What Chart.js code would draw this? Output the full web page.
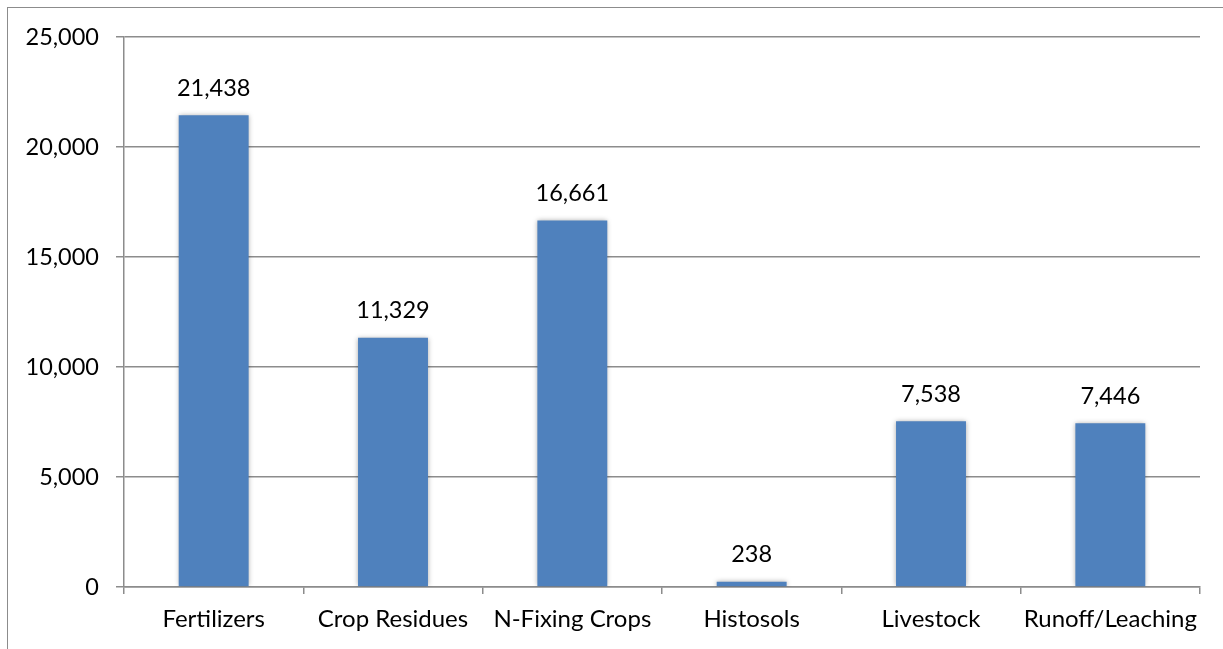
<!DOCTYPE html>
<html>
<head>
<meta charset="utf-8">
<script src="https://cdn.jsdelivr.net/npm/chart.js@4/dist/chart.umd.min.js"></script>
<style>
  html, body { margin: 0; padding: 0; background: #fff; }
  #wrap { position: relative; width: 1223px; height: 649px; }
  #frame { position: absolute; left: 7px; top: 7px; right: 0; bottom: 0;
           border-left: 1px solid #8c8c8c; border-top: 1px solid #8c8c8c; pointer-events: none; }
  canvas { position: absolute; left: 0; top: 0; }
</style>
</head>
<body>
<div id="wrap">
  <canvas id="chart" width="1223" height="649"></canvas>
  <div id="frame"></div>
</div>
<script>
// === Daten ===
const categories = ['Fertilizers', 'Crop Residues', 'N-Fixing Crops', 'Histosols', 'Livestock', 'Runoff/Leaching'];
const values = [21438, 11329, 16661, 238, 7538, 7446];
const yTicks = [0, 5000, 10000, 15000, 20000, 25000];

const FAMILY = 'Lato, "Open Sans", sans-serif';
const NUM_FONT = { family: FAMILY, size: 23.5 };
const CAT_FONT = { family: FAMILY, size: 24 };
const fmt = v => v.toLocaleString('en-US');

// Schatten um die Balken (wie im Excel-Original)
const barShadow = {
  id: 'barShadow',
  beforeDatasetsDraw(chart) {
    const ctx = chart.ctx;
    ctx.save();
    ctx.shadowColor = 'rgba(0,0,0,0.35)';
    ctx.shadowBlur = 5;
    ctx.shadowOffsetX = 0;
    ctx.shadowOffsetY = 0;
  },
  afterDatasetsDraw(chart) {
    chart.ctx.restore();
  }
};

// Werte über den Balken
const valueLabels = {
  id: 'valueLabels',
  afterDatasetsDraw(chart) {
    const ctx = chart.ctx;
    const meta = chart.getDatasetMeta(0);
    ctx.save();
    ctx.font = `${NUM_FONT.size}px ${NUM_FONT.family}`;
    ctx.fillStyle = '#000';
    ctx.textAlign = 'center';
    ctx.textBaseline = 'middle';
    meta.data.forEach((bar, i) => {
      ctx.fillText(fmt(values[i]), bar.x, bar.y - 27);
    });
    ctx.restore();
  }
};

new Chart(document.getElementById('chart'), {
  type: 'bar',
  data: {
    labels: categories,
    datasets: [{
      data: values,
      backgroundColor: '#4F81BD',
      borderWidth: 0,
      categoryPercentage: 1,
      barPercentage: 0.39
    }]
  },
  options: {
    responsive: false,
    animation: false,
    layout: { padding: { left: 0, right: 23, top: 37, bottom: 0 } },
    plugins: {
      legend: { display: false },
      tooltip: { enabled: false }
    },
    scales: {
      x: {
        offset: true,
        grid: {
          offset: true,
          drawOnChartArea: false,
          drawTicks: true,
          tickLength: 7,
          color: '#8c8c8c',
          lineWidth: 1.5
        },
        border: { display: true, color: '#8c8c8c', width: 1.5 },
        ticks: { color: '#000', font: CAT_FONT, padding: 11, maxRotation: 0, autoSkip: false },
        afterFit(scale) { scale.height = 62; }
      },
      y: {
        min: 0,
        max: 25000,
        afterBuildTicks(scale) { scale.ticks = yTicks.map(v => ({ value: v })); },
        grid: { color: '#8c8c8c', lineWidth: 1.5, tickLength: 8 },
        border: { display: true, color: '#8c8c8c', width: 1.5 },
        ticks: { color: '#000', font: NUM_FONT, padding: 17, callback: v => fmt(v) },
        afterFit(scale) { scale.width = 124; }
      }
    }
  },
  plugins: [barShadow, valueLabels]
});
</script>
</body>
</html>
